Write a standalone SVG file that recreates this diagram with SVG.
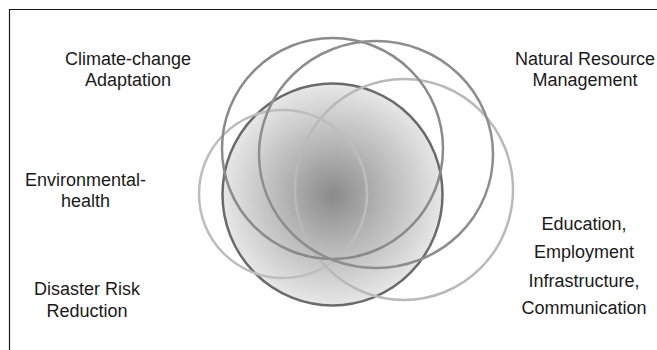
<svg xmlns="http://www.w3.org/2000/svg" width="657" height="350" viewBox="0 0 657 350">
  <style>
    .lbl { font-family: "Liberation Sans", Arial, sans-serif; font-size: 18px; fill: #1a1a1a; text-anchor: middle; }
    .ring { fill: none; stroke-width: 2.5; }
  </style>
  <defs>
    <radialGradient id="core" cx="333" cy="195" r="112" gradientUnits="userSpaceOnUse">
      <stop offset="0" stop-color="#8a8a8b"/>
      <stop offset="0.45" stop-color="#b6b6b7"/>
      <stop offset="1" stop-color="#e8e8e9"/>
    </radialGradient>
  </defs>
  <rect width="657" height="350" fill="#ffffff"/>
  <path d="M9.5 350 V9.5 H657" fill="none" stroke="#1a1a1a" stroke-width="1.2"/>

  <g id="ring-core">
    <ellipse cx="332.5" cy="194.5" rx="110" ry="111" fill="url(#core)" stroke="#6a6a6b" stroke-width="2.5"/>
  </g>
  <g id="ring-left">
    <ellipse class="ring" cx="283" cy="194" rx="84" ry="84" stroke="#bdbdbe"/>
  </g>
  <g id="ring-right">
    <ellipse class="ring" cx="404" cy="189.5" rx="109" ry="110.5" stroke="#b9b9ba"/>
  </g>
  <g id="ring-top-left">
    <ellipse class="ring" cx="332.5" cy="148.5" rx="110.5" ry="110.5" stroke="#8a8a8b"/>
  </g>
  <g id="ring-top-right">
    <ellipse class="ring" cx="376" cy="154.5" rx="117" ry="113.5" stroke="#8e8e8f"/>
  </g>

  <g id="label-climate">
    <text class="lbl" x="128" y="65">Climate-change</text>
    <text class="lbl" x="128" y="86">Adaptation</text>
  </g>
  <g id="label-natural">
    <text class="lbl" x="585" y="65">Natural Resource</text>
    <text class="lbl" x="585" y="86">Management</text>
  </g>
  <g id="label-env">
    <text class="lbl" x="85.5" y="186">Environmental-</text>
    <text class="lbl" x="85.5" y="207">health</text>
  </g>
  <g id="label-disaster">
    <text class="lbl" x="87" y="295">Disaster Risk</text>
    <text class="lbl" x="87" y="317">Reduction</text>
  </g>
  <g id="label-education">
    <text class="lbl" x="584" y="230">Education,</text>
    <text class="lbl" x="584" y="258">Employment</text>
    <text class="lbl" x="584" y="287">Infrastructure,</text>
    <text class="lbl" x="584" y="314">Communication</text>
  </g>
</svg>
